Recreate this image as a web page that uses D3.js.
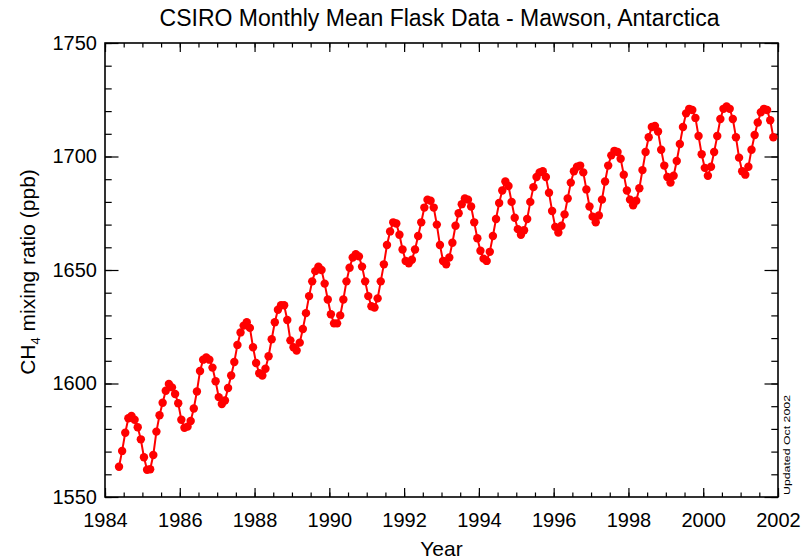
<!DOCTYPE html>
<html>
<head>
<meta charset="utf-8">
<script src="https://cdn.jsdelivr.net/npm/d3@7"></script>
<style>
  html, body { margin: 0; padding: 0; background: #fff; }
  svg { display: block; }
  text { font-family: "Liberation Sans", Arial, Helvetica, sans-serif; fill: #000; }
</style>
</head>
<body>
<svg id="chart" width="801" height="559"></svg>
<script>
// ---- Data: CSIRO monthly mean flask CH4 (ppb), Mawson, Antarctica ----
const firstYear = 1984;
const firstMonth = 5;  // series starts May 1984
const ch4_1984 = [1563.3, 1570.3, 1578.3, 1584.7, 1585.7, 1584.0, 1580.7, 1575.4]; // May–Dec
const ch4_1985 = [1567.5, 1562.0, 1562.2, 1568.5, 1578.8, 1586.0, 1591.5, 1596.8, 1599.8, 1598.3, 1595.4, 1591.3];
const ch4_1986 = [1584.0, 1580.5, 1581.0, 1583.5, 1589.0, 1596.5, 1605.5, 1610.5, 1611.5, 1610.5, 1607.0, 1601.0];
const ch4_1987 = [1594.0, 1591.0, 1592.5, 1598.0, 1603.5, 1609.5, 1617.0, 1622.5, 1625.5, 1627.0, 1624.5, 1616.0];
const ch4_1988 = [1609.0, 1604.5, 1603.5, 1606.5, 1612.0, 1619.5, 1627.0, 1632.5, 1634.5, 1634.5, 1628.0, 1619.0];
const ch4_1989 = [1616.0, 1614.5, 1618.0, 1624.0, 1631.0, 1638.5, 1645.0, 1649.5, 1651.5, 1650.0, 1644.0, 1637.0];
const ch4_1990 = [1630.5, 1626.5, 1626.5, 1630.0, 1637.0, 1645.0, 1651.0, 1655.5, 1657.0, 1656.0, 1651.5, 1645.0];
const ch4_1991 = [1638.5, 1634.0, 1633.5, 1637.5, 1645.0, 1652.5, 1661.0, 1667.0, 1671.0, 1670.5, 1665.5, 1659.0];
const ch4_1992 = [1654.0, 1653.0, 1654.5, 1659.0, 1665.0, 1671.0, 1677.5, 1681.0, 1680.5, 1677.5, 1670.0, 1661.0];
const ch4_1993 = [1654.0, 1652.5, 1655.5, 1662.0, 1669.5, 1675.0, 1679.0, 1681.5, 1681.0, 1678.0, 1671.0, 1664.0];
const ch4_1994 = [1658.5, 1655.0, 1654.0, 1658.0, 1665.0, 1672.5, 1679.5, 1685.0, 1689.0, 1687.0, 1680.0, 1673.0];
const ch4_1995 = [1668.0, 1665.5, 1667.5, 1672.5, 1680.0, 1686.5, 1691.0, 1693.0, 1693.5, 1691.0, 1684.0, 1676.0];
const ch4_1996 = [1669.0, 1666.5, 1669.5, 1674.5, 1681.5, 1688.5, 1693.5, 1695.5, 1696.0, 1693.0, 1685.5, 1678.0];
const ch4_1997 = [1673.5, 1671.0, 1674.0, 1681.0, 1689.0, 1696.0, 1700.5, 1702.5, 1702.0, 1699.0, 1692.0, 1685.0];
const ch4_1998 = [1681.0, 1678.5, 1680.5, 1686.0, 1694.0, 1702.0, 1708.5, 1713.0, 1713.5, 1711.0, 1703.0, 1696.0];
const ch4_1999 = [1691.0, 1688.5, 1691.5, 1698.0, 1705.5, 1713.0, 1719.0, 1721.0, 1720.5, 1717.0, 1709.0, 1701.0];
const ch4_2000 = [1695.0, 1691.5, 1695.5, 1702.0, 1709.0, 1716.5, 1721.0, 1722.0, 1721.0, 1716.5, 1708.5, 1699.5];
const ch4_2001 = [1693.5, 1692.0, 1695.5, 1703.0, 1709.5, 1715.0, 1719.5, 1721.0, 1720.5, 1716.0, 1708.5]; // Jan–Nov

const xTickLabels = [1984, 1986, 1988, 1990, 1992, 1994, 1996, 1998, 2000, 2002];
const yTickLabels = [1550, 1600, 1650, 1700, 1750];
const titleText = "CSIRO Monthly Mean Flask Data - Mawson, Antarctica";
const xLabelText = "Year";
const updatedText = "Updated Oct 2002";

// ---- Build series ----
const yearly = [ch4_1984, ch4_1985, ch4_1986, ch4_1987, ch4_1988, ch4_1989, ch4_1990, ch4_1991,
                ch4_1992, ch4_1993, ch4_1994, ch4_1995, ch4_1996, ch4_1997, ch4_1998, ch4_1999,
                ch4_2000, ch4_2001];
const data = [];
yearly.forEach((arr, i) => {
  const yr = firstYear + i;
  const m0 = (i === 0) ? firstMonth : 1;
  arr.forEach((v, j) => {
    const m = m0 + j;
    data.push({ t: yr + (m - 0.5) / 12, v: v });
  });
});

// ---- Layout ----
const L = 105, R = 778, T = 43, B = 497;
const svg = d3.select("#chart");
const x = d3.scaleLinear().domain([1984, 2002]).range([L, R]);
const y = d3.scaleLinear().domain([1550, 1750]).range([B, T]);

const xMajorLen = 9, xMinorLen = 4.5, yMajorLen = 13.5, yMinorLen = 6.7;
const xMinor = d3.range(1984, 2002.001, 0.5);
const yMinor = d3.range(1550, 1750.001, 10);
const tickStroke = g => g.selectAll("line").attr("stroke", "#000").attr("stroke-width", 1.2);

// Bottom axis
const bottom = svg.append("g").attr("transform", `translate(0,${B})`)
  .call(d3.axisBottom(x).tickValues(xTickLabels).tickFormat(d3.format("d")).tickSize(-xMajorLen).tickPadding(16));
bottom.select(".domain").remove();
bottom.selectAll("text").attr("font-size", 20).attr("font-family", "Liberation Sans, Arial, sans-serif");
tickStroke(bottom);
svg.append("g").attr("transform", `translate(0,${B})`)
  .call(d3.axisBottom(x).tickValues(xMinor).tickFormat("").tickSize(-xMinorLen))
  .call(g => g.select(".domain").remove()).call(tickStroke);

// Top axis (ticks only)
svg.append("g").attr("transform", `translate(0,${T})`)
  .call(d3.axisTop(x).tickValues(xTickLabels).tickFormat("").tickSize(-xMajorLen))
  .call(g => g.select(".domain").remove()).call(tickStroke);
svg.append("g").attr("transform", `translate(0,${T})`)
  .call(d3.axisTop(x).tickValues(xMinor).tickFormat("").tickSize(-xMinorLen))
  .call(g => g.select(".domain").remove()).call(tickStroke);

// Left axis
const left = svg.append("g").attr("transform", `translate(${L},0)`)
  .call(d3.axisLeft(y).tickValues(yTickLabels).tickFormat(d3.format("d")).tickSize(-yMajorLen).tickPadding(8));
left.select(".domain").remove();
left.selectAll("text").attr("font-size", 20).attr("font-family", "Liberation Sans, Arial, sans-serif");
tickStroke(left);
svg.append("g").attr("transform", `translate(${L},0)`)
  .call(d3.axisLeft(y).tickValues(yMinor).tickFormat("").tickSize(-yMinorLen))
  .call(g => g.select(".domain").remove()).call(tickStroke);

// Right axis (ticks only)
svg.append("g").attr("transform", `translate(${R},0)`)
  .call(d3.axisRight(y).tickValues(yTickLabels).tickFormat("").tickSize(-yMajorLen))
  .call(g => g.select(".domain").remove()).call(tickStroke);
svg.append("g").attr("transform", `translate(${R},0)`)
  .call(d3.axisRight(y).tickValues(yMinor).tickFormat("").tickSize(-yMinorLen))
  .call(g => g.select(".domain").remove()).call(tickStroke);

// Frame
svg.append("rect").attr("x", L).attr("y", T).attr("width", R - L).attr("height", B - T)
  .attr("fill", "none").attr("stroke", "#000").attr("stroke-width", 1.6);

// Data line + markers
const line = d3.line().x(d => x(d.t)).y(d => y(d.v));
svg.append("path").datum(data).attr("d", line)
  .attr("fill", "none").attr("stroke", "#ff0000").attr("stroke-width", 2);
svg.append("g").selectAll("circle").data(data).join("circle")
  .attr("cx", d => x(d.t)).attr("cy", d => y(d.v)).attr("r", 4.2)
  .attr("fill", "#ff0000");

// Title
svg.append("text").attr("x", (L + R) / 2 - 2).attr("y", 26)
  .attr("text-anchor", "middle").attr("font-size", 23).text(titleText);

// X label
svg.append("text").attr("x", (L + R) / 2).attr("y", 556)
  .attr("text-anchor", "middle").attr("font-size", 21).text(xLabelText);

// Y label with subscript
const yl = svg.append("text").attr("transform", `translate(35,${(T + B) / 2 + 2}) rotate(-90)`)
  .attr("text-anchor", "middle").attr("font-size", 21);
yl.append("tspan").text("CH");
yl.append("tspan").attr("font-size", 13).attr("dy", 5).text("4");
yl.append("tspan").attr("dy", -5).text(" mixing ratio (ppb)");

// Updated note
svg.append("text").attr("transform", `translate(790,${445}) rotate(-90)`)
  .attr("text-anchor", "middle").attr("font-size", 9)
  .attr("textLength", 100).attr("lengthAdjust", "spacingAndGlyphs").text(updatedText);
</script>
</body>
</html>
